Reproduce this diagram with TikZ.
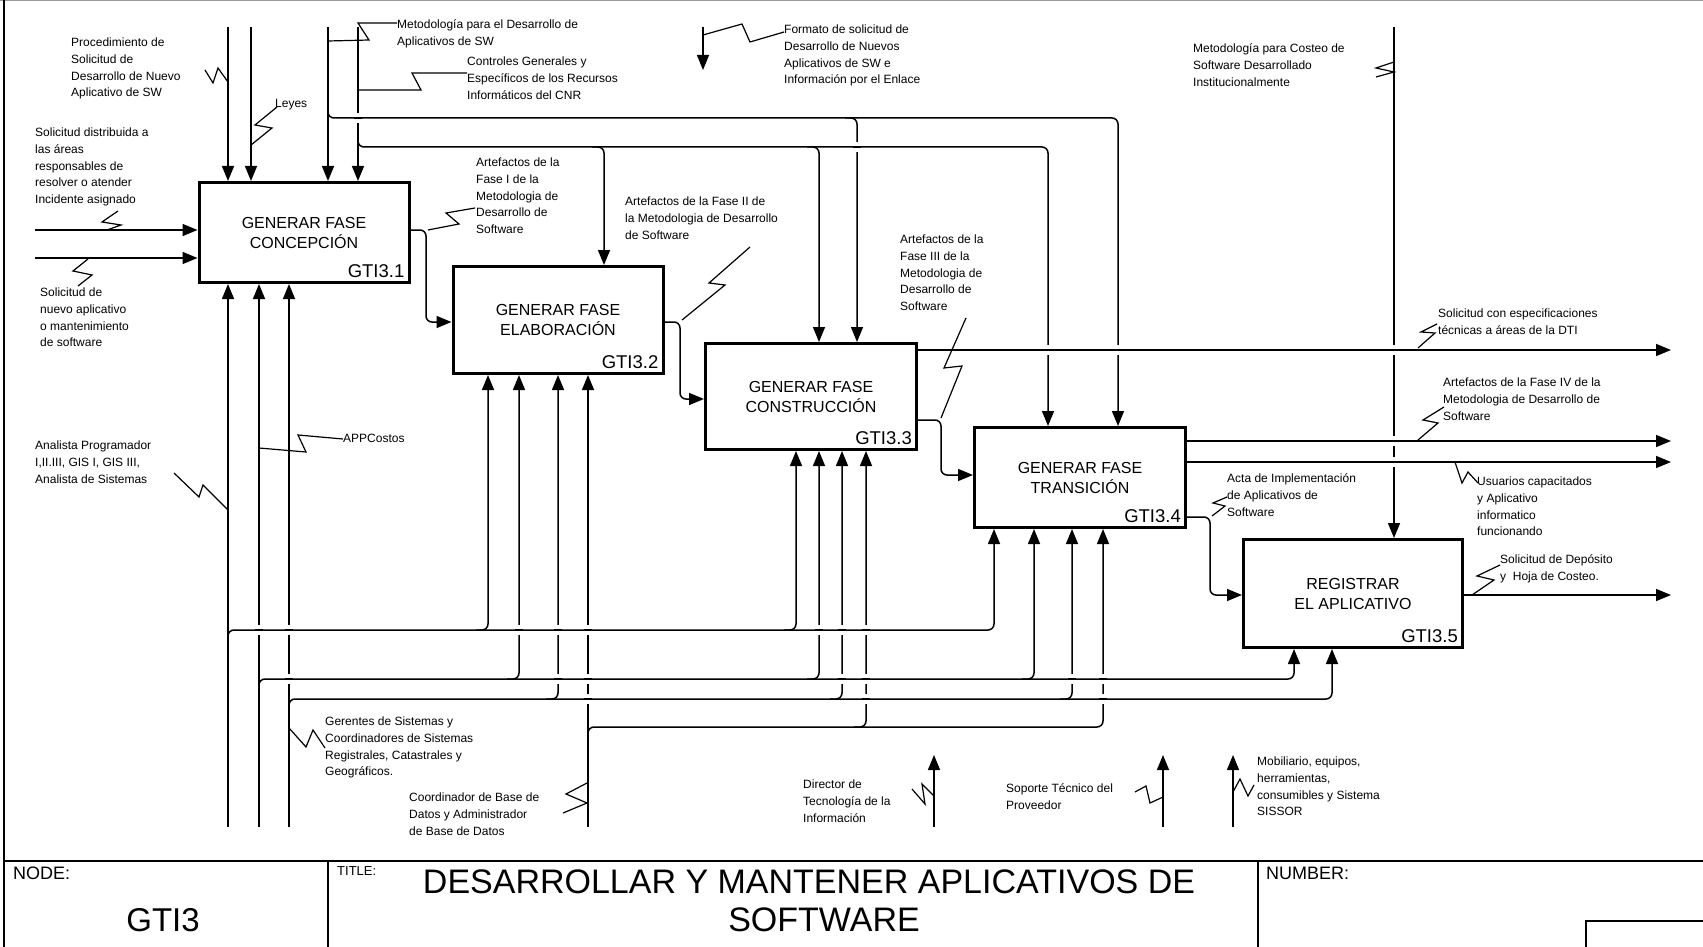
\documentclass[tikz,border=0pt]{standalone}
\usepackage{fontspec}
\setmainfont{Liberation Sans}
\usetikzlibrary{arrows.meta,calc}
\newcommand\xgap[2]{\fill[white] (#1-3,#2-5) rectangle (#1+3,#2+5); \draw[line width=1.5pt] (#1-4,#2) -- (#1+4,#2);}
\begin{document}
\begin{tikzpicture}[x=1pt,y=-1pt,
  ln/.style={line width=1.5pt, rounded corners=6pt},
  arr/.style={ln, -{Triangle[length=15pt,width=12pt]}},
  zz/.style={line width=1.2pt},
  box/.style={draw, line width=3pt, inner sep=0pt, align=center, font=\fontsize{16}{20}\selectfont},
  gti/.style={font=\fontsize{18.5}{20}\selectfont, inner sep=0pt, anchor=base east},
  lbl/.style={font=\fontsize{12}{16.7}\selectfont, align=left, inner sep=0pt, anchor=north west},
  tb/.style={inner sep=0pt},
]
\useasboundingbox (0,0) rectangle (1703,947);
% frame
\draw[line width=1pt, black!40] (0,0.5) -- (1703,0.5);
\draw[line width=1.5pt] (4,0) -- (4,947);
\draw[line width=2pt] (4,861) -- (1703,861);
\draw[line width=1.5pt] (328,861) -- (328,947);
\draw[line width=1.5pt] (1258,861) -- (1258,947);
\draw[line width=1.5pt] (1586,947) -- (1586,921) -- (1703,921);

% boxes
\node[box, minimum width=210pt, minimum height=100pt] (b1) at (304,232.5) {GENERAR FASE\\CONCEPCIÓN};
\node[box, minimum width=210pt, minimum height=107pt] (b2) at (558,320) {GENERAR FASE\\ELABORACIÓN};
\node[box, minimum width=211pt, minimum height=106pt] (b3) at (811,396.5) {GENERAR FASE\\CONSTRUCCIÓN};
\node[box, minimum width=211pt, minimum height=100pt] (b4) at (1080,477.5) {GENERAR FASE\\TRANSICIÓN};
\node[box, minimum width=219pt, minimum height=108pt] (b5) at (1353,593.5) {REGISTRAR\\EL APLICATIVO};
\node[gti] (g1) at ([xshift=-6pt,yshift=7pt]b1.south east) {GTI3.1};
\node[gti] (g2) at ([xshift=-6pt,yshift=7pt]b2.south east) {GTI3.2};
\node[gti] (g3) at ([xshift=-6pt,yshift=7pt]b3.south east) {GTI3.3};
\node[gti] (g4) at ([xshift=-6pt,yshift=7pt]b4.south east) {GTI3.4};
\node[gti] (g5) at ([xshift=-6pt,yshift=7pt]b5.south east) {GTI3.5};

% controls (top)
\draw[arr] (228,27) -- (228,0 |- b1.north);
\draw[arr] (251,27) -- (251,0 |- b1.north);
\draw[arr] (328,27) -- (328,0 |- b1.north);
\draw[arr] (358,27) -- (358,0 |- b1.north);
\draw[arr] (328,100) -- (328,118) -- (1118,118) -- (1118,0 |- b4.north);
\draw[arr] (845,118) -- (857,118) -- (857,0 |- b3.north);
\draw[arr] (358,130) -- (358,147) -- (1048,147) -- (1048,0 |- b4.north);
\draw[arr] (592,147) -- (604,147) -- (604,0 |- b2.north);
\draw[arr] (807,147) -- (819,147) -- (819,0 |- b3.north);
\draw[arr] (703,27) -- (703,70);
\draw[arr] (1394,27) -- (1394,0 |- b5.north);

% inputs
\draw[arr] (35,230) -- (b1.west |- 0,230);
\draw[arr] (35,258) -- (b1.west |- 0,258);

% interconnections
\draw[arr] (b1.east |- 0,230) -- (426,230) -- (426,322) -- (b2.west |- 0,322);
\draw[arr] (b2.east |- 0,322) -- (680,322) -- (680,399) -- (b3.west |- 0,399);
\draw[arr] (b3.east |- 0,420) -- (941,420) -- (941,475) -- (b4.west |- 0,475);
\draw[arr] (b4.east |- 0,517) -- (1210,517) -- (1210,595) -- (b5.west |- 0,595);

% outputs
\draw[arr] (b3.east |- 0,350) -- (1671,350);
\draw[arr] (b4.east |- 0,441) -- (1671,441);
\draw[arr] (b4.east |- 0,462) -- (1671,462);
\draw[arr] (b5.east |- 0,595) -- (1671,595);

% mechanisms
\draw[arr] (228,827) -- (228,0 |- b1.south);
\draw[arr] (259,827) -- (259,0 |- b1.south);
\draw[arr] (289,827) -- (289,0 |- b1.south);
\draw[arr] (588,827) -- (588,0 |- b2.south);
% H1
\draw[arr] (228,645) -- (228,630) -- (994,630) -- (994,0 |- b4.south);
\draw[arr] (476,630) -- (488,630) -- (488,0 |- b2.south);
\draw[arr] (784,630) -- (796,630) -- (796,0 |- b3.south);
% H2
\draw[arr] (259,694) -- (259,679) -- (1294,679) -- (1294,0 |- b5.south);
\draw[arr] (507,679) -- (519,679) -- (519,0 |- b2.south);
\draw[arr] (807,679) -- (819,679) -- (819,0 |- b3.south);
\draw[arr] (1022,679) -- (1034,679) -- (1034,0 |- b4.south);
% H3
\draw[arr] (289,714) -- (289,699) -- (1332,699) -- (1332,0 |- b5.south);
\draw[arr] (546,699) -- (558,699) -- (558,0 |- b2.south);
\draw[arr] (830,699) -- (842,699) -- (842,0 |- b3.south);
\draw[arr] (1060,699) -- (1072,699) -- (1072,0 |- b4.south);
% H4
\draw[arr] (588,742) -- (588,727) -- (1103,727) -- (1103,0 |- b4.south);
\draw[arr] (854,727) -- (866,727) -- (866,0 |- b3.south);

% standalone mechanisms
\draw[arr] (934,827) -- (934,755);
\draw[arr] (1163,827) -- (1163,755);
\draw[arr] (1233,827) -- (1233,755);

% squiggles
\draw[zz] (205,70) -- (213,83) -- (218,68) -- (228,82);
\draw[zz] (251,145) -- (272,128) -- (255,125) -- (277,107);
\draw[zz] (328,41) -- (369,40) -- (358,23) -- (397,23);
\draw[zz] (358,90) -- (421,90) -- (412,73) -- (467,73);
\draw[zz] (703,35) -- (742,24) -- (750,42) -- (784,32);
\draw[zz] (1394,62) -- (1376,68) -- (1394,72) -- (1376,77);
\draw[zz] (118,211) -- (102,222) -- (121,225) -- (107,230);
\draw[zz] (88,259) -- (73,271) -- (92,275) -- (78,286);
\draw[zz] (428,230) -- (459,224) -- (446,213) -- (475,208);
\draw[zz] (682,320) -- (725,285) -- (709,283) -- (750,247);
\draw[zz] (941,418) -- (962,366) -- (944,368) -- (966,318);
\draw[zz] (1418,348) -- (1435,333) -- (1421,332) -- (1437,324);
\draw[zz] (1418,440) -- (1438,423) -- (1423,420) -- (1444,407);
\draw[zz] (1455,462) -- (1462,483) -- (1468,472) -- (1478,483);
\draw[zz] (1212,516) -- (1225,506) -- (1213,503) -- (1227,497);
\draw[zz] (1472,595) -- (1494,580) -- (1477,576) -- (1500,565);
\draw[zz] (174,473) -- (199,497) -- (203,485) -- (228,510);
\draw[zz] (259,448) -- (306,452) -- (298,435) -- (343,439);
\draw[zz] (289,728) -- (306,747) -- (313,730) -- (325,748);
\draw[zz] (587,783) -- (566,794) -- (587,803) -- (563,813);
\draw[zz] (912,789) -- (925,804) -- (922,784) -- (934,796);
\draw[zz] (1135,792) -- (1146,786) -- (1150,803) -- (1163,797);
\draw[zz] (1233,792) -- (1240,779) -- (1248,796) -- (1254,785);

% crossing gaps
\xgap{358}{118}
\xgap{857}{147}
\xgap{1048}{350}
\xgap{1118}{350}
\xgap{1394}{350}
\xgap{1394}{441}
\xgap{1394}{462}
\foreach \x in {259,289,519,558,588,819,842,866} {\xgap{\x}{630}}
\foreach \x in {289,558,588,842,866,1072,1103} {\xgap{\x}{679}}
\foreach \x in {588,866,1103} {\xgap{\x}{699}}

% labels
\node[lbl] (t1) at (71,35) {\strut Procedimiento de\\Solicitud de\\Desarrollo de Nuevo\\Aplicativo de SW};
\node[lbl] (t2) at (275,96) {\strut Leyes};
\node[lbl] (t3) at (397,17) {\strut Metodología para el Desarrollo de\\Aplicativos de SW};
\node[lbl] (t4) at (467,54) {\strut Controles Generales y\\Específicos de los Recursos\\Informáticos del CNR};
\node[lbl] (t5) at (784,22) {\strut Formato de solicitud de\\Desarrollo de Nuevos\\Aplicativos de SW e\\Información por el Enlace};
\node[lbl] (t6) at (1193,41) {\strut Metodología para Costeo de\\Software Desarrollado\\Institucionalmente};
\node[lbl] (t7) at (35,125) {\strut Solicitud distribuida a\\las áreas\\responsables de\\resolver o atender\\Incidente asignado};
\node[lbl] (t8) at (40,285) {\strut Solicitud de\\nuevo aplicativo\\o mantenimiento\\de software};
\node[lbl] (t9) at (476,155) {\strut Artefactos de la\\Fase I de la\\Metodologia de\\Desarrollo de\\Software};
\node[lbl] (t10) at (625,194) {\strut Artefactos de la Fase II de\\la Metodologia de Desarrollo\\de Software};
\node[lbl] (t11) at (900,232) {\strut Artefactos de la\\Fase III de la\\Metodologia de\\Desarrollo de\\Software};
\node[lbl] (t12) at (1438,306) {\strut Solicitud con especificaciones\\técnicas a áreas de la DTI};
\node[lbl] (t13) at (1443,375) {\strut Artefactos de la Fase IV de la\\Metodologia de Desarrollo de\\Software};
\node[lbl] (t14) at (1477,474) {\strut Usuarios capacitados\\y Aplicativo\\informatico\\funcionando};
\node[lbl] (t15) at (1227,471) {\strut Acta de Implementación\\de Aplicativos de\\Software};
\node[lbl] (t16) at (1500,552) {\strut Solicitud de Depósito\\y~~Hoja de Costeo.};
\node[lbl] (t17) at (35,438) {\strut Analista Programador\\I,II.III, GIS I, GIS III,\\Analista de Sistemas};
\node[lbl] (t18) at (343,431) {\strut APPCostos};
\node[lbl] (t19) at (325,714) {\strut Gerentes de Sistemas y\\Coordinadores de Sistemas\\Registrales, Catastrales y\\Geográficos.};
\node[lbl] (t20) at (409,790) {\strut Coordinador de Base de\\Datos y Administrador\\de Base de Datos};
\node[lbl] (t21) at (803,777) {\strut Director de\\Tecnología de la\\Información};
\node[lbl] (t22) at (1006,781) {\strut Soporte Técnico del\\Proveedor};
\node[lbl] (t23) at (1257,754) {\strut Mobiliario, equipos,\\herramientas,\\consumibles y Sistema\\SISSOR};

% title block
\node[tb, anchor=west, font=\fontsize{18}{20}\selectfont] (nodelbl) at (13,873) {NODE:};
\node[tb, font=\fontsize{33}{36}\selectfont] (gti3) at (163,920) {GTI3};
\node[tb, anchor=west, font=\fontsize{13}{15}\selectfont] (titlelbl) at (337,871) {TITLE:};
\node[tb, font=\fontsize{34}{38}\selectfont] (tt1) at (809,882) {DESARROLLAR Y MANTENER APLICATIVOS DE};
\node[tb, font=\fontsize{34}{38}\selectfont] (tt2) at (824,920) {SOFTWARE};
\node[tb, anchor=west, font=\fontsize{18}{20}\selectfont] (numlbl) at (1266,873) {NUMBER:};
\end{tikzpicture}
\end{document}
